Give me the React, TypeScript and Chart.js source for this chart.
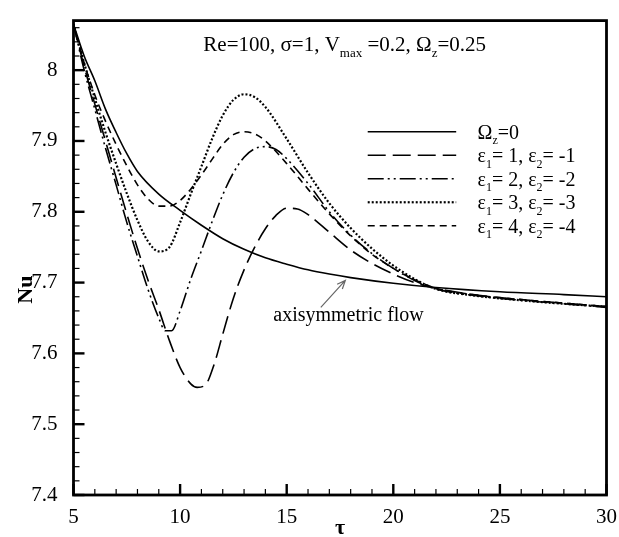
import React, { useEffect, useRef } from "react";
import { Chart, registerables } from "chart.js";
Chart.register(...registerables);

// ---- data ----
const tauSolid = [5, 5.5, 6, 6.5, 7, 7.5, 8, 9, 10, 11, 12, 13, 14, 15, 16, 17, 18, 20, 22, 25, 28, 30];
const nuSolid = [8.065, 8.02, 7.985, 7.945, 7.912, 7.882, 7.857, 7.825, 7.802, 7.781, 7.762, 7.747, 7.735, 7.726, 7.718, 7.712, 7.707, 7.699, 7.693, 7.687, 7.683, 7.68];

const tauE1 = [5, 5.5, 6, 6.5, 7, 7.5, 8, 8.5, 9, 9.5, 10, 10.5, 10.8, 11.2, 11.6, 12, 12.5, 13, 13.5, 14, 14.5, 15, 15.5, 16, 17, 18, 19, 20, 21, 22, 24, 26, 28, 30];
const nuE1 = [8.065, 8.005, 7.952, 7.9, 7.848, 7.797, 7.748, 7.703, 7.662, 7.618, 7.58, 7.557, 7.552, 7.556, 7.585, 7.627, 7.678, 7.718, 7.75, 7.776, 7.795, 7.805, 7.804, 7.796, 7.771, 7.746, 7.727, 7.712, 7.7, 7.692, 7.682, 7.676, 7.671, 7.666];

const tauE2 = [5, 5.5, 6, 6.5, 7, 7.5, 8, 8.5, 9, 9.3, 9.6, 10, 10.5, 11, 11.5, 12, 12.5, 13, 13.5, 14, 14.5, 15, 16, 17, 18, 19, 20, 21, 22, 24, 26, 28, 30];
const nuE2 = [8.065, 8.0, 7.945, 7.89, 7.838, 7.785, 7.737, 7.69, 7.65, 7.632, 7.632, 7.66, 7.705, 7.745, 7.786, 7.824, 7.855, 7.877, 7.889, 7.892, 7.888, 7.875, 7.84, 7.8, 7.767, 7.741, 7.72, 7.703, 7.691, 7.681, 7.675, 7.67, 7.665];

const tauE3 = [5, 5.5, 6, 6.5, 7, 7.5, 8, 8.5, 9, 9.5, 10, 10.5, 11, 11.5, 12, 12.5, 13, 13.5, 14, 15, 16, 17, 18, 19, 20, 21, 22, 24, 26, 28, 30];
const nuE3 = [8.065, 8.01, 7.96, 7.912, 7.868, 7.826, 7.788, 7.758, 7.744, 7.75, 7.785, 7.825, 7.864, 7.903, 7.936, 7.958, 7.966, 7.962, 7.948, 7.903, 7.855, 7.812, 7.777, 7.748, 7.724, 7.705, 7.691, 7.681, 7.675, 7.67, 7.666];

const tauE4 = [5, 5.5, 6, 6.5, 7, 7.5, 8, 8.5, 9, 9.5, 10, 10.5, 11, 11.5, 12, 12.5, 13, 13.5, 14, 15, 16, 17, 18, 19, 20, 21, 22, 24, 26, 28, 30];
const nuE4 = [8.065, 8.01, 7.965, 7.928, 7.895, 7.865, 7.838, 7.818, 7.808, 7.808, 7.816, 7.832, 7.852, 7.874, 7.895, 7.909, 7.913, 7.91, 7.9, 7.868, 7.832, 7.797, 7.766, 7.74, 7.72, 7.704, 7.692, 7.682, 7.676, 7.671, 7.666];

const xMajorTicks = [5, 10, 15, 20, 25, 30];
const yMajorTicks = [7.4, 7.5, 7.6, 7.7, 7.8, 7.9, 8.0];

type Part = { t: string; sub?: boolean };
const titleParts: Part[] = [
  { t: "Re=100, σ=1, V" }, { t: "max", sub: true }, { t: " =0.2, Ω" }, { t: "z", sub: true }, { t: "=0.25" },
];
const legendLabels: Part[][] = [
  [{ t: "Ω" }, { t: "z", sub: true }, { t: "=0" }],
  [{ t: "ε" }, { t: "1", sub: true }, { t: "= 1, ε" }, { t: "2", sub: true }, { t: "= -1" }],
  [{ t: "ε" }, { t: "1", sub: true }, { t: "= 2, ε" }, { t: "2", sub: true }, { t: "= -2" }],
  [{ t: "ε" }, { t: "1", sub: true }, { t: "= 3, ε" }, { t: "2", sub: true }, { t: "= -3" }],
  [{ t: "ε" }, { t: "1", sub: true }, { t: "= 4, ε" }, { t: "2", sub: true }, { t: "= -4" }],
];
const annotationText = "axisymmetric flow";

const FONT = '"Liberation Serif", "Times New Roman", serif';

const styles = [
  { dash: [] as number[], width: 1.6 },
  { dash: [18, 7], width: 1.6 },
  { dash: [16, 4, 2, 4, 2, 4], width: 1.6 },
  { dash: [2, 2], width: 2.2 },
  { dash: [7, 5], width: 1.6 },
];

function pts(xs: number[], ys: number[]) {
  return xs.map((x, i) => ({ x, y: ys[i] }));
}

function drawRich(ctx: CanvasRenderingContext2D, parts: Part[], x: number, y: number, size: number, align: "left" | "center") {
  const subSize = Math.round(size * 0.62);
  let total = 0;
  for (const p of parts) {
    ctx.font = `${p.sub ? subSize : size}px ${FONT}`;
    total += ctx.measureText(p.t).width;
  }
  let cx = align === "center" ? x - total / 2 : x;
  ctx.textAlign = "left";
  ctx.textBaseline = "alphabetic";
  for (const p of parts) {
    ctx.font = `${p.sub ? subSize : size}px ${FONT}`;
    ctx.fillText(p.t, cx, p.sub ? y + size * 0.28 : y);
    cx += ctx.measureText(p.t).width;
  }
}

const decorPlugin = {
  id: "decor",
  afterDraw(chart: any) {
    const ctx: CanvasRenderingContext2D = chart.ctx;
    const { left, right, top, bottom } = chart.chartArea;
    const xs = chart.scales.x;
    const ys = chart.scales.y;
    ctx.save();
    ctx.strokeStyle = "#000";
    ctx.fillStyle = "#000";
    ctx.setLineDash([]);
    // x ticks (inward)
    for (let i = 0; i <= 25; i++) {
      const px = xs.getPixelForValue(5 + i);
      const major = i % 5 === 0;
      ctx.lineWidth = major ? 2.4 : 1.2;
      ctx.beginPath();
      ctx.moveTo(px, bottom);
      ctx.lineTo(px, bottom - (major ? 11 : 6));
      ctx.stroke();
    }
    // y ticks (inward)
    for (let i = 0; i <= 33; i++) {
      const v = 7.4 + i * 0.02;
      const py = ys.getPixelForValue(v);
      const major = i % 5 === 0;
      ctx.lineWidth = major ? 2.4 : 1.2;
      ctx.beginPath();
      ctx.moveTo(left, py);
      ctx.lineTo(left + (major ? 11 : 6), py);
      ctx.stroke();
    }
    // frame
    ctx.lineWidth = 2.8;
    ctx.strokeRect(left, top, right - left, bottom - top);

    // title
    drawRich(ctx, titleParts, xs.getPixelForValue(17.72), ys.getPixelForValue(8.027), 21, "center");

    // legend
    const rowY0 = ys.getPixelForValue(7.913);
    const lx0 = xs.getPixelForValue(18.8);
    const lx1 = xs.getPixelForValue(22.95);
    const tx = xs.getPixelForValue(23.95);
    legendLabels.forEach((parts, i) => {
      const y = rowY0 + i * 23.5;
      ctx.save();
      ctx.lineWidth = styles[i].width;
      ctx.setLineDash(styles[i].dash);
      ctx.beginPath();
      ctx.moveTo(lx0, y);
      ctx.lineTo(lx1, y);
      ctx.stroke();
      ctx.restore();
      drawRich(ctx, parts, tx, y + 7, 20, "left");
    });

    // annotation arrow
    const ax0 = xs.getPixelForValue(16.6), ay0 = ys.getPixelForValue(7.665);
    const ax1 = xs.getPixelForValue(17.75), ay1 = ys.getPixelForValue(7.703);
    ctx.strokeStyle = "#666";
    ctx.lineWidth = 1.2;
    ctx.beginPath();
    ctx.moveTo(ax0, ay0);
    ctx.lineTo(ax1, ay1);
    const ang = Math.atan2(ay1 - ay0, ax1 - ax0);
    const hl = 9;
    ctx.moveTo(ax1 - hl * Math.cos(ang - 0.4), ay1 - hl * Math.sin(ang - 0.4));
    ctx.lineTo(ax1, ay1);
    ctx.lineTo(ax1 - hl * Math.cos(ang + 0.4), ay1 - hl * Math.sin(ang + 0.4));
    ctx.stroke();
    ctx.fillStyle = "#000";
    ctx.font = `20px ${FONT}`;
    ctx.textAlign = "left";
    ctx.textBaseline = "alphabetic";
    ctx.fillText(annotationText, xs.getPixelForValue(14.37), ys.getPixelForValue(7.646));

    // axis titles
    ctx.font = `bold 22px ${FONT}`;
    ctx.textAlign = "center";
    ctx.textBaseline = "middle";
    ctx.fillText("τ", (left + right) / 2, 528);
    ctx.save();
    ctx.translate(26, ys.getPixelForValue(7.69));
    ctx.rotate(-Math.PI / 2);
    ctx.fillText("Nu", 0, 0);
    ctx.restore();
    ctx.restore();
  },
};

export default function App() {
  const ref = useRef<HTMLCanvasElement>(null);
  useEffect(() => {
    if (!ref.current) return;
    const series = [
      { label: "Ωz=0", data: pts(tauSolid, nuSolid) },
      { label: "ε1= 1, ε2= -1", data: pts(tauE1, nuE1) },
      { label: "ε1= 2, ε2= -2", data: pts(tauE2, nuE2) },
      { label: "ε1= 3, ε2= -3", data: pts(tauE3, nuE3) },
      { label: "ε1= 4, ε2= -4", data: pts(tauE4, nuE4) },
    ];
    const chart = new Chart(ref.current, {
      type: "line",
      data: {
        datasets: series.map((s, i) => ({
          label: s.label,
          data: s.data,
          borderColor: "#000",
          borderWidth: styles[i].width,
          borderDash: styles[i].dash,
          pointRadius: 0,
          fill: false,
          cubicInterpolationMode: "monotone" as const,
        })),
      },
      options: {
        animation: false,
        responsive: false,
        maintainAspectRatio: false,
        layout: { padding: { top: 8, right: 8, left: 0, bottom: 0 } },
        plugins: { legend: { display: false }, tooltip: { enabled: false } },
        scales: {
          x: {
            type: "linear",
            min: 5,
            max: 30,
            afterBuildTicks: (scale: any) => {
              scale.ticks = xMajorTicks.map((v) => ({ value: v }));
            },
            afterFit: (scale: any) => {
              scale.height = 42;
            },
            ticks: {
              font: { family: FONT, size: 21 },
              color: "#000",
              padding: 2,
              maxRotation: 0,
            },
            grid: { display: false },
            border: { display: false },
          },
          y: {
            type: "linear",
            min: 7.4,
            max: 8.07,
            afterBuildTicks: (scale: any) => {
              scale.ticks = yMajorTicks.map((v) => ({ value: v }));
            },
            afterFit: (scale: any) => {
              scale.width = 73.5;
            },
            ticks: {
              font: { family: FONT, size: 21 },
              color: "#000",
              padding: 8,
              callback: (v: any) => String(Math.round(Number(v) * 10) / 10),
            },
            grid: { display: false },
            border: { display: false },
          },
        },
      },
      plugins: [decorPlugin],
    });
    return () => chart.destroy();
  }, []);
  return (
    <div style={{ position: "absolute", left: 0, top: 0, width: 619, height: 537, background: "#fff" }}>
      <canvas ref={ref} width={619} height={537} style={{ width: 619, height: 537 }} />
    </div>
  );
}
